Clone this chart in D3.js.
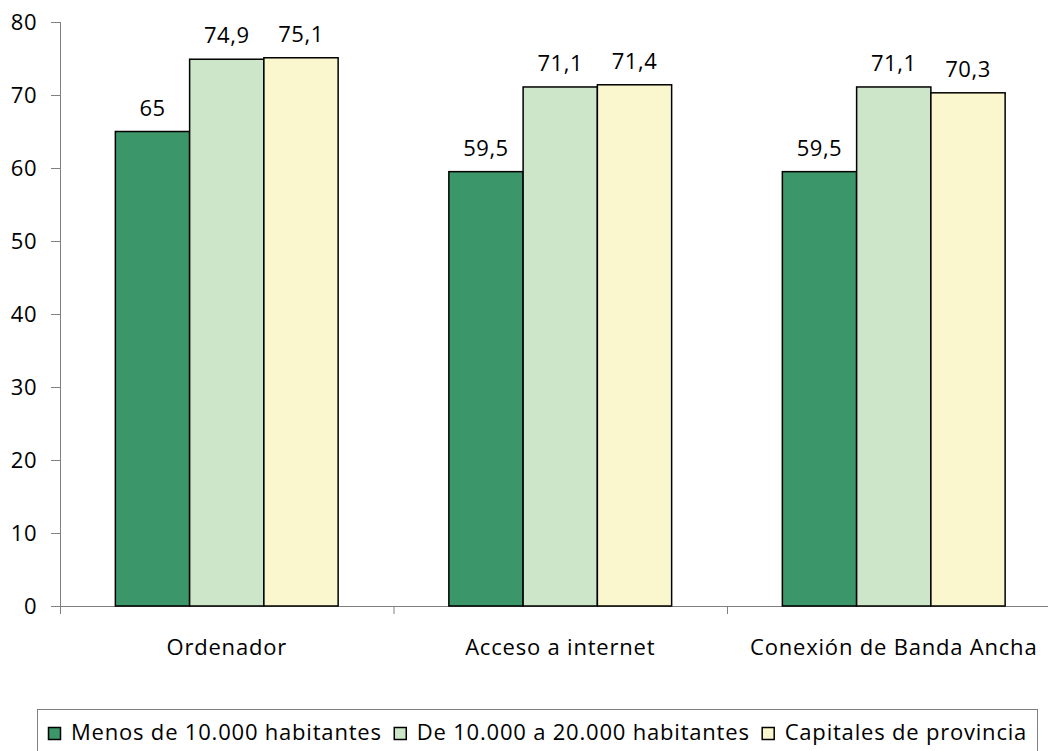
<html>
<head>
  <meta charset="utf-8">
  <title>Equipamiento TIC por tamaño de municipio</title>
  <script src="https://cdnjs.cloudflare.com/ajax/libs/d3/7.8.5/d3.min.js"></script>
  <style>
    body { margin: 0; background: #fff; }
    text { font-family: "Open Sans", "Noto Sans", sans-serif; fill: #000; }
  </style>
</head>
<body>
  <svg></svg>
  <script>
var categories = ["Ordenador", "Acceso a internet", "Conexión de Banda Ancha"];
var seriesNames = ["Menos de 10.000 habitantes", "De 10.000 a 20.000 habitantes", "Capitales de provincia"];
var menos10 = [65, 59.5, 59.5];
var de10a20 = [74.9, 71.1, 71.1];
var capitales = [75.1, 71.4, 70.3];
var yTicks = [0, 10, 20, 30, 40, 50, 60, 70, 80];
var colors = ["#3b9669", "#cde5c8", "#faf7cf"];

var w = 1048, h = 751;
var svg = d3.select("svg").attr("width", w).attr("height", h);

var plotLeft = 60, plotRight = 1060.5, plotTop = 22, plotBottom = 606;

var y = d3.scaleLinear().domain([0, 80]).range([plotBottom, plotTop]);

// category slots (for ticks and labels)
var xCat = d3.scaleBand().domain(categories).range([plotLeft, plotRight]);
// bar groups inside each slot
var x0 = d3.scaleBand().domain(categories).range([plotLeft, plotRight])
  .paddingInner(0.332).paddingOuter(0.166);
var x1 = d3.scaleBand().domain(seriesNames).range([0, x0.bandwidth()]);

var series = [menos10, de10a20, capitales];
var data = [];
categories.forEach(function(c, i) {
  seriesNames.forEach(function(s, j) {
    data.push({cat: c, ser: s, val: series[j][i], k: j});
  });
});

// y axis
var yAxis = d3.axisLeft(y).tickValues(yTicks).tickSize(9).tickPadding(14);
var gy = svg.append("g").attr("transform", "translate(" + plotLeft + ",0)").call(yAxis);
gy.select(".domain").attr("stroke", "#808080").attr("d", "M0.5," + plotTop + "V" + plotBottom);
gy.selectAll(".tick line").attr("stroke", "#808080");
gy.selectAll(".tick text").attr("dy", "0.36em")
  .style("font-size", "22px").style("letter-spacing", "0.5px")
  .style("font-family", "'Open Sans', sans-serif");

// x axis
var gx = svg.append("g");
gx.append("line").attr("x1", plotLeft).attr("x2", plotRight)
  .attr("y1", plotBottom + 0.5).attr("y2", plotBottom + 0.5)
  .attr("stroke", "#808080");
var bounds = categories.map(function(c) { return xCat(c); }).concat([plotRight]);
gx.selectAll(".xt").data(bounds).enter().append("line")
  .attr("x1", function(d) { return d + 0.5; }).attr("x2", function(d) { return d + 0.5; })
  .attr("y1", plotBottom).attr("y2", plotBottom + 8).attr("stroke", "#808080");
gx.selectAll(".xl").data(categories).enter().append("text")
  .attr("x", function(d) { return xCat(d) + xCat.bandwidth() / 2; })
  .attr("y", 655)
  .attr("text-anchor", "middle")
  .style("font-size", "22px")
  .style("letter-spacing", "0.8px")
  .text(function(d) { return d; });

// bars
svg.selectAll("rect.bar").data(data).enter().append("rect")
  .attr("class", "bar")
  .attr("x", function(d) { return x0(d.cat) + x1(d.ser); })
  .attr("y", function(d) { return y(d.val); })
  .attr("width", x1.bandwidth())
  .attr("height", function(d) { return y(0) - y(d.val); })
  .attr("fill", function(d) { return colors[d.k]; })
  .attr("stroke", "#000")
  .attr("stroke-width", 1.5);

// value labels
svg.selectAll("text.val").data(data).enter().append("text")
  .attr("class", "val")
  .attr("x", function(d) { return x0(d.cat) + x1(d.ser) + x1.bandwidth() / 2; })
  .attr("y", function(d) { return y(d.val) - 16; })
  .attr("text-anchor", "middle")
  .style("font-size", "22px")
  .style("letter-spacing", "0.5px")
  .text(function(d) { return String(d.val).replace(".", ","); });

// legend
var lg = svg.append("g");
lg.append("rect").attr("x", 37.5).attr("y", 709.5).attr("width", 1000).attr("height", 45)
  .attr("fill", "#fff").attr("stroke", "#808080");
var lx = 48;
seriesNames.forEach(function(s, j) {
  lg.append("rect").attr("x", lx + 0.5).attr("y", 727.5).attr("width", 12).attr("height", 12)
    .attr("fill", colors[j]).attr("stroke", "#000").attr("stroke-width", 1.5);
  var t = lg.append("text").attr("x", lx + 23).attr("y", 740)
    .style("font-size", "22px").style("letter-spacing", "0.8px").text(s);
  lx += 23 + t.node().getComputedTextLength() + 12;
});
  </script>
</body>
</html>
